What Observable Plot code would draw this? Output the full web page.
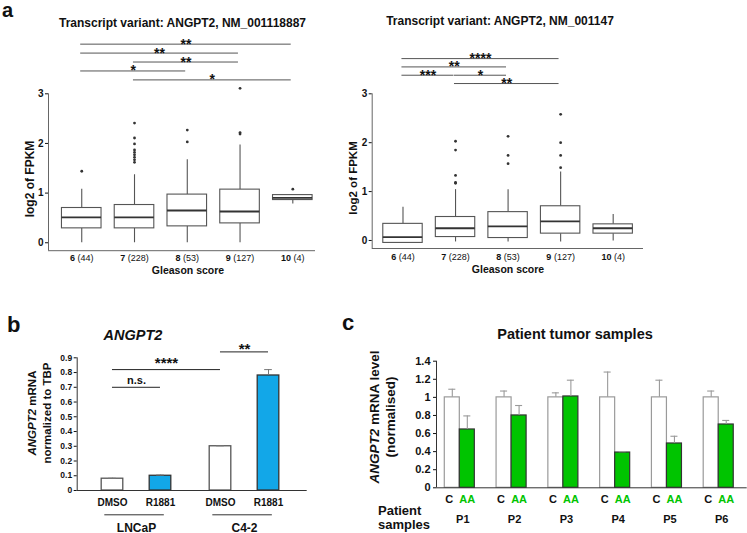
<!DOCTYPE html>
<html><head><meta charset="utf-8">
<script src="https://cdn.jsdelivr.net/npm/d3@7"></script>
<script src="https://cdn.jsdelivr.net/npm/@observablehq/plot@0.6"></script>
<style>
body{margin:0;background:#fff;}
#wrap{position:relative;width:747px;height:533px;overflow:hidden;font-family:"Liberation Sans",Arial,Helvetica,sans-serif;color:#111;background:#fff;}
#wrap svg{position:absolute;left:0;top:0;}
.lbl{position:absolute;white-space:nowrap;font-weight:bold;line-height:0.8;}
</style></head><body><div id="wrap"></div>
<script>
// ---------- Panel a data ----------
const gleasonScores = ["6","7","8","9","10"];
const caseCounts = [44,228,53,127,4];

const v1WhiskerLow  = [0,0,0,0,0.78];
const v1Q1          = [0.29,0.29,0.33,0.39,0.86];
const v1Median      = [0.51,0.51,0.65,0.63,0.905];
const v1Q3          = [0.70,0.76,0.97,1.07,0.96];
const v1WhiskerHigh = [1.08,1.37,1.67,1.97,0.96];
const v1Outliers    = [[1.44],[1.62,1.67,1.72,1.77,1.82,1.87,1.99,2.11,2.41],[2.03,2.27],[2.19,2.22,3.11],[1.08]];
const v1Signif      = [[0,4,"**",0],[0,3,"**",1],[1,3,"**",2],[0,2,"*",3],[1,4,"*",4]];

const v2WhiskerLow  = [-0.05,-0.03,-0.03,-0.03,-0.01];
const v2Q1          = [-0.05,0.07,0.05,0.14,0.14];
const v2Median      = [0.07,0.25,0.29,0.39,0.25];
const v2Q3          = [0.34,0.48,0.58,0.70,0.33];
const v2WhiskerHigh = [0.68,1.04,1.04,1.40,0.53];
const v2Outliers    = [[],[1.17,1.19,1.33,1.85,2.03],[1.57,1.74,2.13],[1.49,1.74,2.0,2.58],[]];
const v2Signif      = [[0,3,"****",0],[0,2,"**",1],[0,1,"***",2],[1,2,"*",2],[1,3,"**",3]];

// ---------- Panel b data ----------
const bCellLines  = ["LNCaP","LNCaP","C4-2","C4-2"];
const bTreatments = ["DMSO","R1881","DMSO","R1881"];
const bValues     = [0.08,0.10,0.30,0.78];
const bErrors     = [0.003,0.005,0.003,0.04];
const bSignif     = [[0,1,"n.s.",0],[0,2,"****",1],[2,3,"**",2]];

// ---------- Panel c data ----------
const patients     = ["P1","P2","P3","P4","P5","P6"];
const cConditions  = ["C","AA"];
const cControl     = [1,1,1,1,1,1];
const cControlErr  = [0.09,0.07,0.05,0.28,0.19,0.07];
const cAA          = [0.645,0.80,1.01,0.39,0.49,0.70];
const cAAErr       = [0.15,0.11,0.18,0.01,0.08,0.045];

// ---------- helpers ----------
const W = 747, H = 533;
const FONT = '"Liberation Sans", Arial, Helvetica, sans-serif';
const wrap = document.getElementById("wrap");
const BLUE = "#12a7e8", GREEN = "#00c400";

function mk(opts, fontSize) {
  const svg = Plot.plot({
    width: W, height: H,
    style: {background: "transparent", fontFamily: FONT, fontWeight: "bold", fontSize: fontSize + "px", color: "#111", overflow: "visible"},
    ...opts
  });
  svg.style.position = "absolute"; svg.style.left = "0px"; svg.style.top = "0px";
  wrap.appendChild(svg);
  return svg;
}
// line-height 0.8em: baseline sits 0.7465em below the box top
function label(html, x, baseline, size, anchor, extra) {
  const d = document.createElement("div");
  d.className = "lbl";
  d.innerHTML = html;
  d.style.fontSize = size + "px";
  d.style.top = (baseline - 0.7465 * size) + "px";
  d.style.left = x + "px";
  if (anchor === "middle") d.style.transform = "translateX(-50%)";
  if (anchor === "end") d.style.transform = "translateX(-100%)";
  if (extra) d.style.cssText += extra;
  wrap.appendChild(d);
}
function rlabel(html, cx, cy, size, lh) {
  const d = document.createElement("div");
  d.className = "lbl";
  d.innerHTML = html;
  d.style.fontSize = size + "px";
  d.style.lineHeight = lh + "px";
  d.style.textAlign = "center";
  d.style.left = cx + "px"; d.style.top = cy + "px";
  d.style.transform = "translate(-50%,-50%) rotate(-90deg)";
  wrap.appendChild(d);
}

// ---------- Panel a (box plots) ----------
function boxPanel(c) {
  const rows = gleasonScores.map((g, i) => ({i, g, n: caseCounts[i], low: c.low[i], q1: c.q1[i], med: c.med[i], q3: c.q3[i], high: c.high[i]}));
  const outs = c.out.flatMap((arr, i) => arr.map(v => ({i, v})));
  const br = c.sig.map(([a, b, t, row]) => ({a: a - 0.02, b: b - 0.03, t, y: c.top - row * c.step}));
  const hw = 0.375, AX = "#666", BX = "#555";
  const svg = mk({
    marginLeft: c.frame[0], marginRight: W - c.frame[1], marginTop: c.frame[2], marginBottom: H - c.frame[3],
    x: {domain: c.xdom, axis: null},
    y: {domain: c.ydom, label: null},
    marks: [
      Plot.ruleX([c.xdom[0]], {y1: c.ydom[0], y2: 3, stroke: AX}),
      Plot.ruleY([c.ydom[0]], {x1: c.xdom[0], x2: c.xdom[1], stroke: AX}),
      Plot.axisY({ticks: [0,1,2,3], tickFormat: d => String(d), tickSize: 3, tickPadding: 2, label: null, fontSize: 10}),
      Plot.ruleX(rows, {x: "i", y1: "low", y2: "q1", stroke: BX, strokeWidth: 1.1}),
      Plot.ruleX(rows, {x: "i", y1: "q3", y2: "high", stroke: BX, strokeWidth: 1.1}),
      Plot.rect(rows, {x1: d => d.i - hw, x2: d => d.i + hw, y1: "q1", y2: "q3", fill: "white", stroke: BX, strokeWidth: 1.1}),
      Plot.ruleY(rows, {y: "med", x1: d => d.i - hw, x2: d => d.i + hw, stroke: "#333", strokeWidth: 1.8}),
      Plot.dot(outs, {x: "i", y: "v", r: 1.4, fill: "#333"}),
      Plot.ruleY(br, {y: "y", x1: "a", x2: "b", stroke: "#555"}),
      Plot.text(br, {x: d => (d.a + d.b) / 2, y: "y", text: "t", lineAnchor: "bottom", dy: 4.5, fontSize: 14}),
      Plot.text(rows, {x: "i", y: c.ydom[0], text: d => `${d.g} (${d.n})`, lineAnchor: "bottom", dy: c.tickDy, fontSize: 9})
    ]
  }, 10);
  // bold score, regular count
  d3.select(svg).selectAll("text").each(function() {
    const m = /^(\d+) (\(\d+\))$/.exec(this.textContent);
    if (m) {
      this.textContent = "";
      d3.select(this).append("tspan").attr("font-weight", "bold").text(m[1]);
      d3.select(this).append("tspan").attr("font-weight", "normal").text(" " + m[2]);
    }
  });
}

boxPanel({low: v1WhiskerLow, q1: v1Q1, med: v1Median, q3: v1Q3, high: v1WhiskerHigh, out: v1Outliers, sig: v1Signif,
  top: 4.0, step: 0.18, frame: [48, 315, 93.3, 250.2], xdom: [-0.63, 4.43], ydom: [-0.16, 3], tickDy: 10});
boxPanel({low: v2WhiskerLow, q1: v2Q1, med: v2Median, q3: v2Q3, high: v2WhiskerHigh, out: v2Outliers, sig: v2Signif,
  top: 3.72, step: 0.17, frame: [371.7, 643, 93.3, 248], xdom: [-0.586, 4.577], ydom: [-0.164, 3], tickDy: 11});

label("a", 2, 17, 20, "start");
label("Transcript variant: ANGPT2, NM_001118887", 182.5, 28, 12, "middle");
label("Transcript variant: ANGPT2, NM_001147", 500, 26, 12, "middle");
rlabel("log2 of FPKM", 30, 179, 12, 12);
rlabel("log2 of FPKM", 353, 178, 11.5, 12);
label("Gleason score", 188, 274, 10.5, "middle");
label("Gleason score", 508, 272.5, 10.5, "middle");

// ---------- Panel b ----------
{
  const cells = [...new Set(bCellLines)];
  const treats = [...new Set(bTreatments)];
  const GAP = 2.25;
  const rows = bValues.map((v, i) => ({i, v, e: bErrors[i], tr: bTreatments[i], cell: bCellLines[i],
    pos: cells.indexOf(bCellLines[i]) * GAP + treats.indexOf(bTreatments[i])}));
  const groups = cells.map(cl => {
    const p = rows.filter(r => r.cell === cl).map(r => r.pos);
    return {cl, x1: d3.min(p) - 0.16, x2: d3.max(p) + 0.08, mid: d3.mean(p)};
  });
  const br = bSignif.map(([a, b, t, row]) => ({a: rows[a].pos, b: rows[b].pos, t, y: 0.70 + row * 0.12,
    dy: t === "n.s." ? -3 : t === "****" ? -1.5 : 2}));
  const hw = 0.225, xdom = [-0.735, 4.056];
  mk({
    marginLeft: 76.7, marginRight: W - 306.7, marginTop: 357.3, marginBottom: H - 490,
    x: {domain: xdom, axis: null},
    y: {domain: [0, 0.9], label: null},
    marks: [
      Plot.ruleX([xdom[0]], {y1: 0, y2: 0.9, stroke: "#333"}),
      Plot.axisY({ticks: d3.range(10).map(k => k / 10), tickFormat: d => d === 0 ? "0" : d.toFixed(1), tickSize: 3, tickPadding: 2, label: null, fontSize: 8.5}),
      Plot.rect(rows, {filter: d => d.tr === treats[0], x1: d => d.pos - hw, x2: d => d.pos + hw, y1: 0, y2: "v", fill: "white", stroke: "#555", strokeWidth: 1.3}),
      Plot.rect(rows, {filter: d => d.tr === treats[1], x1: d => d.pos - hw, x2: d => d.pos + hw, y1: 0, y2: "v", fill: BLUE, stroke: "#333", strokeWidth: 1.3}),
      Plot.ruleX(rows, {x: "pos", y1: "v", y2: d => d.v + d.e, stroke: "#777"}),
      Plot.ruleY(rows, {y: d => d.v + d.e, x1: d => d.pos - 0.08, x2: d => d.pos + 0.08, stroke: "#777"}),
      Plot.ruleY([0], {x1: xdom[0], x2: xdom[1], stroke: "#333"}),
      Plot.ruleY(br, {y: "y", x1: "a", x2: "b", stroke: "#222"}),
      ...br.map(d => Plot.text([d], {x: (d.a + d.b) / 2, y: d.y, text: "t", lineAnchor: "bottom", dy: d.dy, fontSize: d.t === "n.s." ? 11 : 15})),
      Plot.text(rows, {x: "pos", y: 0, text: "tr", lineAnchor: "bottom", dy: 15.5, fontSize: 10}),
      Plot.ruleY(groups, {y: 0, x1: "x1", x2: "x2", dy: 24.3, stroke: "#333"}),
      Plot.text(groups, {x: "mid", y: 0, text: "cl", lineAnchor: "bottom", dy: 41, fontSize: 12})
    ]
  }, 8.5);
}
label("b", 7, 332, 22, "start");
label("<i>ANGPT2</i>", 133, 340.5, 14.5, "middle");
rlabel("<i>ANGPT2</i> mRNA<br>normalized to TBP", 38.75, 413, 11.5, 14.5);

// ---------- Panel c ----------
{
  const hw = 0.145, xdom = [-0.45, 5.55];
  const rows = patients.flatMap((p, i) => [
    {i, p, cond: cConditions[0], v: cControl[i], e: cControlErr[i], x: i - hw},
    {i, p, cond: cConditions[1], v: cAA[i], e: cAAErr[i], x: i + hw}
  ]);
  const prow = patients.map((p, i) => ({i, p}));
  mk({
    marginLeft: 436, marginRight: W - 746.7, marginTop: 360.7, marginBottom: H - 487.3,
    x: {domain: xdom, axis: null},
    y: {domain: [0, 1.4], label: null},
    marks: [
      Plot.ruleX([xdom[0]], {y1: 0, y2: 1.4, stroke: "#333"}),
      Plot.axisY({ticks: d3.range(8).map(k => k / 5), tickFormat: d => String(Math.round(d * 10) / 10), tickSize: 3, tickPadding: 3, label: null, fontSize: 11}),
      Plot.rect(rows, {filter: d => d.cond === "C", x1: d => d.x - hw, x2: d => d.x + hw, y1: 0, y2: "v", fill: "white", stroke: "#9a9a9a", strokeWidth: 1.2}),
      Plot.rect(rows, {filter: d => d.cond === "AA", x1: d => d.x - hw, x2: d => d.x + hw, y1: 0, y2: "v", fill: GREEN, stroke: "#333", strokeWidth: 1.2}),
      Plot.ruleX(rows, {x: "x", y1: "v", y2: d => d.v + d.e, stroke: "#9a9a9a", strokeWidth: 1.1}),
      Plot.ruleY(rows, {y: d => d.v + d.e, x1: d => d.x - 0.068, x2: d => d.x + 0.068, stroke: "#9a9a9a", strokeWidth: 1.1}),
      Plot.ruleY([0], {x1: xdom[0], x2: xdom[1], stroke: "#333"}),
      Plot.text(rows, {filter: d => d.cond === "C", x: "x", y: 0, text: "cond", lineAnchor: "bottom", dy: 15, dx: -3, fontSize: 11, fill: "#111"}),
      Plot.text(rows, {filter: d => d.cond === "AA", x: "x", y: 0, text: "cond", lineAnchor: "bottom", dy: 15, fontSize: 11, fill: GREEN}),
      Plot.text(prow, {x: "i", y: 0, text: "p", lineAnchor: "bottom", dy: 35, dx: 3, fontSize: 11})
    ]
  }, 11);
}
label("c", 342, 330, 22, "start");
label("Patient tumor samples", 575, 339.5, 14.5, "middle");
rlabel("<i>ANGPT2</i> mRNA level<br>(normalised)", 383, 417, 13.5, 16);
label("Patient", 378, 516, 13, "start");
label("samples", 378, 529.5, 13, "start");
</script></body></html>
